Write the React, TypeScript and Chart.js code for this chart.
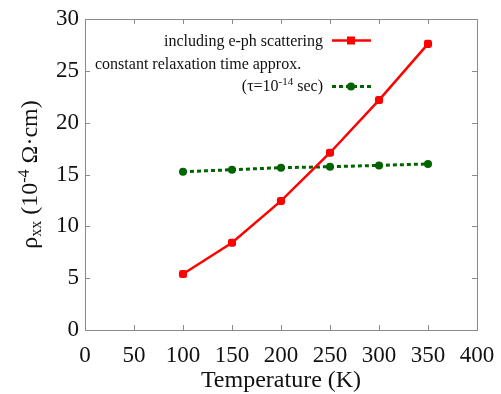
import React, { useEffect, useRef } from "react";
import { Chart, registerables } from "chart.js";

Chart.register(...registerables);

const temperatures = [100, 150, 200, 250, 300, 350];
const ephValues = [5.4, 8.42, 12.45, 17.1, 22.18, 27.6];
const crtaValues = [15.27, 15.46, 15.66, 15.75, 15.88, 16.02];
const xTicks = [0, 50, 100, 150, 200, 250, 300, 350, 400];
const yTicks = [0, 5, 10, 15, 20, 25, 30];

const RED = "#ff0000";
const GREEN = "#006400";
const AXIS = "#8a8a8a";
const SERIF = "'Liberation Serif', 'Times New Roman', serif";

type Seg = { t: string; size: number; dy: number };

function drawSegs(ctx: CanvasRenderingContext2D, segs: Seg[], x: number, y: number, align: "left" | "center" | "right") {
  ctx.textAlign = "left";
  ctx.textBaseline = "alphabetic";
  let total = 0;
  for (const s of segs) {
    ctx.font = `${s.size}px ${SERIF}`;
    total += ctx.measureText(s.t).width;
  }
  let cx = align === "left" ? x : align === "center" ? x - total / 2 : x - total;
  for (const s of segs) {
    ctx.font = `${s.size}px ${SERIF}`;
    ctx.fillText(s.t, cx, y + s.dy);
    cx += ctx.measureText(s.t).width;
  }
}

const framePlugin = {
  id: "frame",
  afterDraw(chart: any) {
    const { ctx, chartArea, scales } = chart;
    const { left, right, top, bottom } = chartArea;
    ctx.save();
    ctx.strokeStyle = AXIS;
    ctx.lineWidth = 1;
    ctx.strokeRect(left + 0.5, top + 0.5, right - left, bottom - top);
    const tl = 5;
    ctx.beginPath();
    for (const v of xTicks) {
      const px = Math.round(scales.x.getPixelForValue(v)) + 0.5;
      ctx.moveTo(px, bottom);
      ctx.lineTo(px, bottom - tl);
      ctx.moveTo(px, top);
      ctx.lineTo(px, top + tl);
    }
    for (const v of yTicks) {
      const py = Math.round(scales.y.getPixelForValue(v)) + 0.5;
      ctx.moveTo(left, py);
      ctx.lineTo(left + tl, py);
      ctx.moveTo(right, py);
      ctx.lineTo(right - tl, py);
    }
    ctx.stroke();

    ctx.fillStyle = "#111";
    // x title
    drawSegs(ctx, [{ t: "Temperature (K)", size: 24, dy: 0 }], (left + right) / 2, 387, "center");
    // y title
    ctx.save();
    ctx.translate(37, (top + bottom) / 2);
    ctx.rotate(-Math.PI / 2);
    drawSegs(
      ctx,
      [
        { t: "ρ", size: 24, dy: 0 },
        { t: "xx", size: 16, dy: 4 },
        { t: " (10", size: 24, dy: 0 },
        { t: "-4", size: 16, dy: -8 },
        { t: " Ω·cm)", size: 24, dy: 0 },
      ],
      0,
      0,
      "center"
    );
    ctx.restore();

    // legend
    ctx.fillStyle = "#111";
    drawSegs(ctx, [{ t: "including e-ph scattering", size: 16, dy: 0 }], 323, 46, "right");
    drawSegs(ctx, [{ t: "constant relaxation time approx.", size: 16, dy: 0 }], 95, 68.5, "left");
    drawSegs(
      ctx,
      [
        { t: "(τ=10", size: 16, dy: 0 },
        { t: "-14", size: 11, dy: -6 },
        { t: " sec)", size: 16, dy: 0 },
      ],
      323,
      90.5,
      "right"
    );
    // red sample
    ctx.strokeStyle = RED;
    ctx.lineWidth = 2.5;
    ctx.setLineDash([]);
    ctx.beginPath();
    ctx.moveTo(332, 40.5);
    ctx.lineTo(371, 40.5);
    ctx.stroke();
    ctx.fillStyle = RED;
    ctx.fillRect(347, 36.5, 8, 8);
    // green sample
    ctx.strokeStyle = GREEN;
    ctx.lineWidth = 3;
    ctx.setLineDash([4, 3]);
    ctx.beginPath();
    ctx.moveTo(332, 86.5);
    ctx.lineTo(371, 86.5);
    ctx.stroke();
    ctx.setLineDash([]);
    ctx.fillStyle = GREEN;
    ctx.beginPath();
    ctx.arc(351, 86.5, 4, 0, Math.PI * 2);
    ctx.fill();
    ctx.restore();
  },
};

export default function App() {
  const ref = useRef<HTMLCanvasElement>(null);
  useEffect(() => {
    if (!ref.current) return;
    const chart = new Chart(ref.current, {
      type: "line",
      data: {
        datasets: [
          {
            label: "including e-ph scattering",
            data: temperatures.map((t, i) => ({ x: t, y: ephValues[i] })),
            borderColor: RED,
            backgroundColor: RED,
            borderWidth: 2.5,
            pointStyle: "rectRounded",
            pointRadius: 4.7,
            pointBorderWidth: 0,
            tension: 0,
          },
          {
            label: "constant relaxation time approx. (τ=10-14 sec)",
            data: temperatures.map((t, i) => ({ x: t, y: crtaValues[i] })),
            borderColor: GREEN,
            backgroundColor: GREEN,
            borderWidth: 3,
            borderDash: [4, 3],
            pointStyle: "circle",
            pointRadius: 4,
            pointBorderWidth: 0,
            tension: 0,
          },
        ],
      },
      options: {
        responsive: false,
        animation: false,
        events: [],
        layout: { padding: { top: 19, right: 24, left: 0, bottom: 0 } },
        plugins: { legend: { display: false }, tooltip: { enabled: false } },
        scales: {
          x: {
            type: "linear",
            min: 0,
            max: 400,
            border: { display: false },
            grid: { display: false, drawTicks: false },
            ticks: {
              stepSize: 50,
              padding: 12,
              color: "#111",
              maxRotation: 0,
              autoSkip: false,
              font: { family: SERIF, size: 23 },
            },
            afterFit: (s: any) => {
              s.height = 64;
              s.paddingLeft = 0;
              s.paddingRight = 0;
            },
          },
          y: {
            type: "linear",
            min: 0,
            max: 30,
            border: { display: false },
            grid: { display: false, drawTicks: false },
            ticks: {
              stepSize: 5,
              padding: 6,
              color: "#111",
              autoSkip: false,
              font: { family: SERIF, size: 23 },
            },
            afterFit: (s: any) => {
              s.width = 85;
              s.paddingTop = 0;
              s.paddingBottom = 0;
            },
          },
        },
      },
      plugins: [framePlugin],
    });
    return () => chart.destroy();
  }, []);
  return (
    <div style={{ position: "absolute", left: 0, top: 0, width: 501, height: 394, background: "#fff" }}>
      <canvas ref={ref} width={501} height={394} />
    </div>
  );
}
